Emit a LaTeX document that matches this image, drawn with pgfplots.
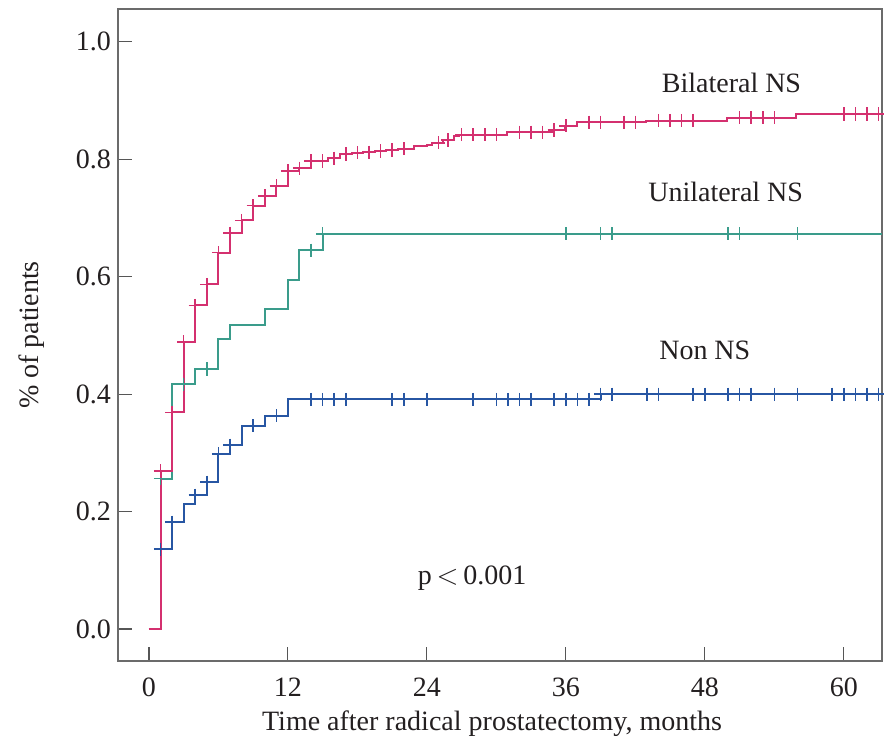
\documentclass[border=0pt]{standalone}
\usepackage{fontspec}
\setmainfont{Liberation Serif}
\usepackage{pgfplots}
\pgfplotsset{compat=1.18}
\definecolor{kmpink}{HTML}{D4306F}
\definecolor{kmteal}{HTML}{3A9C8B}
\definecolor{kmblue}{HTML}{2756A3}
\definecolor{kmtext}{HTML}{231F20}
\definecolor{kmaxis}{HTML}{6B6B6B}

\begin{document}
\begin{tikzpicture}
\begin{axis}[
    scale only axis,
    width=382pt,
    height=326pt,
    xmin=-2.67, xmax=63.3,
    ymin=-0.0545, ymax=1.056,
    axis line style={draw=kmaxis, line width=1pt},
    tick style={draw=kmaxis!80!black, line width=0.6pt},
    tick align=inside,
    major tick length=7pt,
    xtick pos=bottom,
    ytick pos=left,
    xtick={0,12,24,36,48,60},
    xticklabels={0,12,24,36,48,60},
    ytick={0,0.2,0.4,0.6,0.8,1.0},
    yticklabels={0.0,0.2,0.4,0.6,0.8,1.0},
    every tick label/.append style={font=\fontsize{14}{16}\selectfont, text=kmtext},
    xticklabel style={yshift=-5pt},
    xlabel={Time after radical prostatectomy, months},
    ylabel={\% of patients},
    xlabel style={at={([xshift=-4pt,yshift=-31.5pt]axis description cs:0.5,0)}, anchor=center, font=\fontsize{14}{16}\selectfont, text=kmtext},
    ylabel style={at={([xshift=-43pt]axis description cs:0,0.5)}, anchor=center, font=\fontsize{14}{16}\selectfont, text=kmtext},
    every axis plot/.append style={line width=1pt},
]
% Non NS
\addplot[kmblue, const plot, no marks] coordinates {
 (0,0) (1,0.136) (2,0.182) (3,0.213) (4,0.228) (5,0.250) (6,0.298) (7,0.313)
 (8,0.346) (10,0.363) (12,0.391) (39,0.400) (63.3,0.400)};
\addplot[kmblue, only marks, mark=+, mark size=3.3pt, mark options={line width=0.8pt}] coordinates {
 (1,0.136) (2,0.182) (4,0.228) (5,0.250) (6,0.298) (7,0.313) (9,0.346) (11,0.363)
 (14,0.391) (15,0.391) (16,0.391) (17,0.391) (21,0.391) (22,0.391) (24,0.391) (28,0.391)
 (30,0.391) (31,0.391) (32,0.391) (33,0.391) (35,0.391) (36,0.391) (37,0.391) (38,0.391)
 (39,0.400) (40,0.400) (43,0.400) (44,0.400) (47,0.400) (48,0.400) (50,0.400) (51,0.400)
 (52,0.400) (54,0.400) (56,0.400) (59,0.400) (60,0.400) (61,0.400) (62,0.400) (63,0.400)};
% Unilateral NS
\addplot[kmteal, const plot, no marks] coordinates {
 (0,0) (1,0.256) (2,0.417) (4,0.443) (6,0.494) (7,0.518) (10,0.545) (12,0.595)
 (13,0.645) (15,0.673) (63.3,0.673)};
\addplot[kmteal, only marks, mark=+, mark size=3.3pt, mark options={line width=0.8pt}] coordinates {
 (1,0.256) (3,0.417) (5,0.443) (14,0.645) (15,0.673) (36,0.673) (39,0.673) (40,0.673)
 (50,0.673) (51,0.673) (56,0.673)};
% Bilateral NS
\addplot[kmpink, const plot, no marks] coordinates {
 (0,0) (1,0.269) (2,0.369) (3,0.489) (4,0.551) (5,0.587) (6,0.641) (7,0.674) (8,0.696)
 (9,0.721) (10,0.738) (11,0.755) (12,0.780) (13,0.785) (14,0.797) (15.5,0.802) (16.5,0.809)
 (17.5,0.811) (18.5,0.812) (19.5,0.814) (20.5,0.816) (21.5,0.818) (22.9,0.822) (24,0.825)
 (24.4,0.828) (25.4,0.833) (26.3,0.839) (26.8,0.842) (30.9,0.846) (34.9,0.850) (35.9,0.857)
 (37,0.863) (42.9,0.866) (49.9,0.871) (55.9,0.877) (63.3,0.877)};
\addplot[kmpink, only marks, mark=+, mark size=3.3pt, mark options={line width=0.8pt}] coordinates {
 (1,0.269) (2,0.369) (3,0.489) (4,0.551) (5,0.587) (6,0.641) (7,0.674) (8,0.696) (9,0.721)
 (10,0.738) (11,0.755) (12,0.780) (13,0.785) (14,0.797) (15,0.797) (16,0.802) (17,0.809)
 (18,0.811) (19,0.812) (20,0.814) (21,0.816) (22,0.818) (25,0.828) (25.8,0.833) (27,0.842)
 (28,0.842) (29,0.842) (30,0.842) (32,0.846) (33,0.846) (34,0.846) (35,0.850) (36,0.857)
 (38,0.863) (39,0.863) (41,0.863) (42,0.863) (44,0.866) (45,0.866) (46,0.866) (47,0.866)
 (51,0.871) (52,0.871) (53,0.871) (54,0.871) (60,0.877) (61,0.877) (62,0.877) (63,0.877)};

\node[font=\fontsize{14}{16}\selectfont, text=kmtext] at (axis cs:50.3,0.930) {Bilateral NS};
\node[font=\fontsize{14}{16}\selectfont, text=kmtext] at (axis cs:49.8,0.744) {Unilateral NS};
\node[font=\fontsize{14}{16}\selectfont, text=kmtext] at (axis cs:48.0,0.474) {Non NS};
\node[font=\fontsize{14}{16}\selectfont, text=kmtext] at (axis cs:27.9,0.087) {p$\,{<}\,$0.001};

\coordinate (bbsw) at (rel axis cs:-0.15445,-0.1273);
\coordinate (bbne) at (rel axis cs:1.00262,1.0138);
\end{axis}
\pgfresetboundingbox
\path[use as bounding box] (bbsw) rectangle (bbne);
\end{tikzpicture}
\end{document}
